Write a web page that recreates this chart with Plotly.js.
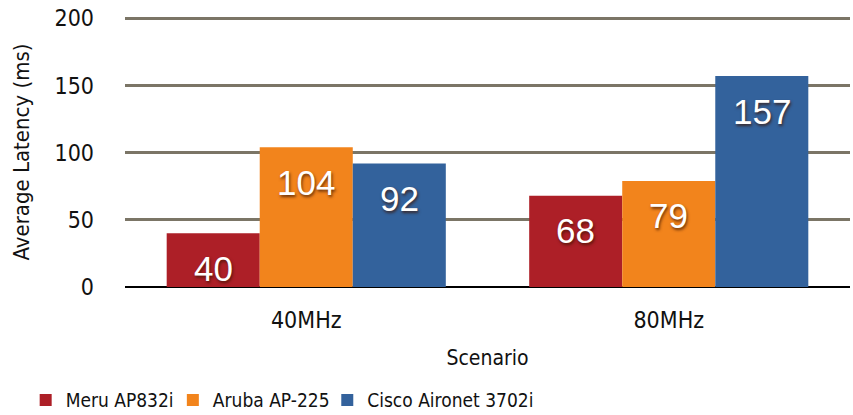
<!DOCTYPE html>
<html><head><meta charset="utf-8">
<script src="https://cdn.plot.ly/plotly-3.0.1.min.js"></script>
<style>html,body{margin:0;padding:0;background:#fff}#c{width:853px;height:415px}</style>
</head><body><div id="c"></div>
<script>
const categories = ["40MHz", "80MHz"];
const seriesNames = ["Meru AP832i", "Aruba AP-225", "Cisco Aironet 3702i"];
const meru = [40, 68];
const aruba = [104, 79];
const cisco = [92, 157];
const colors = ["#ad1f27", "#f2841c", "#33629c"];
const yTicks = [0, 50, 100, 150, 200];

const W = 853, H = 415;
const M = {l: 125, r: 3, t: 17, b: 128, autoexpand: false};
const bargap = 0.23;
const vals = [meru, aruba, cisco];
const legendIds = ["legend", "legend2", "legend3"];
const legendX = [-0.137, 0.066, 0.279];

const traces = vals.map((v, i) => ({
  type: "bar", x: categories, y: v, name: seriesNames[i],
  marker: {color: colors[i], line: {width: 0}},
  legend: legendIds[i],
  hoverinfo: "skip"
}));

// value labels placed from the data, shifted within each bar group
const catPx = (W - M.l - M.r) / categories.length;
const barPx = catPx * (1 - bargap) / vals.length;
const annotations = [];
vals.forEach((v, i) => v.forEach((y, j) => annotations.push({
  x: categories[j], y: y, xref: "x", yref: "y", text: String(y), showarrow: false,
  xshift: (i - (vals.length - 1) / 2) * barPx, yshift: -35, yanchor: "middle",
  font: {family: "Liberation Sans, Arial", size: 35, color: "#fff",
         shadow: "1px 2px 3px rgba(60,20,0,0.75)"}
})));

const font = "DejaVu Sans Condensed, Liberation Sans Narrow, sans-serif";
const layout = {
  width: W, height: H, margin: M,
  barmode: "group", bargap: bargap, bargroupgap: 0,
  paper_bgcolor: "#fff", plot_bgcolor: "#fff",
  font: {family: font, color: "#111"},
  annotations: annotations,
  xaxis: {tickfont: {size: 23, family: font}, ticks: "", showline: false, ticklabelstandoff: 17,
          title: {text: "Scenario", font: {size: 21, family: font}, standoff: 18}},
  yaxis: {range: [0, 201], tickvals: yTicks, ticktext: yTicks.map(String),
          tickfont: {size: 23, family: font}, ticklabelstandoff: 30,
          gridcolor: "#7b7566", gridwidth: 3,
          zeroline: true, zerolinecolor: "#000", zerolinewidth: 2,
          title: {text: "Average Latency (ms)", font: {size: 22, family: font}, standoff: 18}},
  showlegend: true
};
legendIds.forEach((id, i) => {
  layout[id] = {orientation: "h", x: legendX[i], xanchor: "left", y: -0.419, yanchor: "middle",
                font: {size: 19, family: font}, bgcolor: "rgba(0,0,0,0)"};
});
Plotly.newPlot("c", traces, layout, {displayModeBar: false, staticPlot: true});
</script></body></html>
